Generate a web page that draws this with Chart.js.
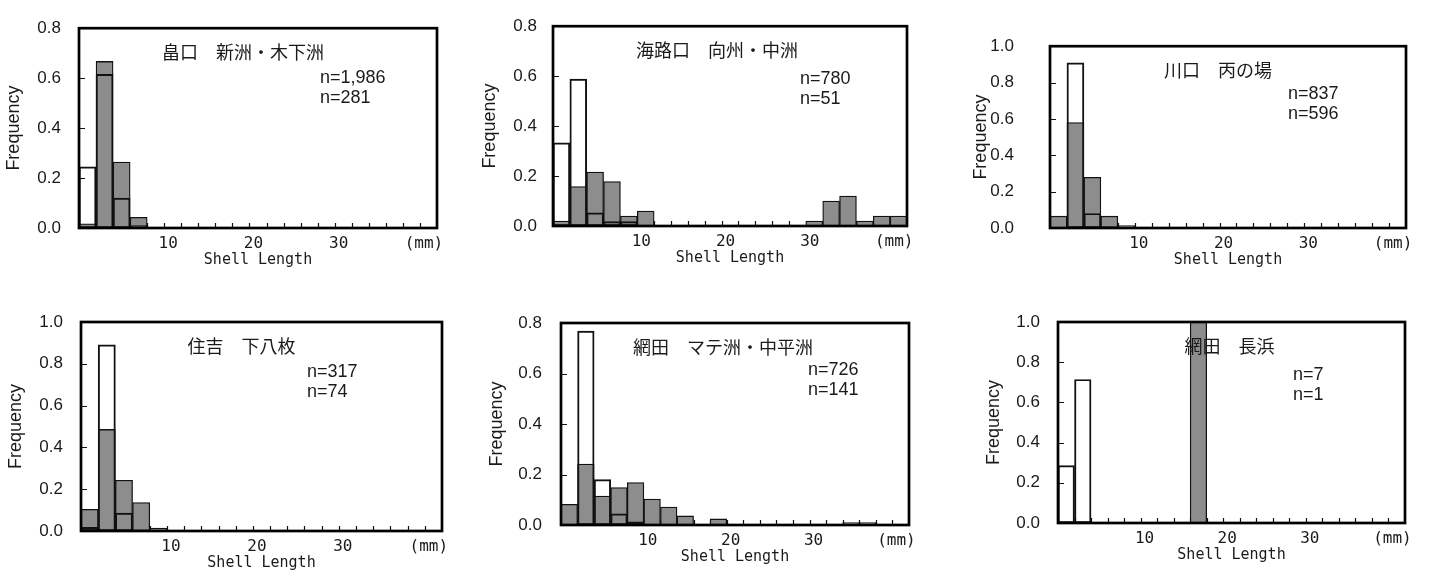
<!DOCTYPE html>
<html>
<head>
<meta charset="utf-8">
<title>Shell Length Frequency</title>
<script src="https://cdn.jsdelivr.net/npm/chart.js@4.4.1/dist/chart.umd.min.js"></script>
<style>
  body { margin: 0; background: #fff; }
  #wrap { position: relative; width: 1429px; height: 573px; }
  #wrap canvas { position: absolute; }
</style>
</head>
<body>
<div id="wrap"></div>
<script>
// bin centres, 2 mm bins from 0 to 42 mm
const binMids = [1, 3, 5, 7, 9, 11, 13, 15, 17, 19, 21, 23, 25, 27, 29, 31, 33, 35, 37, 39, 41];
const xTickLabels = { 10: '10', 20: '20', 30: '30', 40: '(mm)' };

const panelTitles = ['畠口　新洲・木下洲', '海路口　向州・中洲', '川口　丙の場',
                     '住吉　下八枚', '網田　マテ洲・中平洲', '網田　長浜'];
const nWhite = ['n=1,986', 'n=780', 'n=837', 'n=317', 'n=726', 'n=7'];
const nGray  = ['n=281', 'n=51', 'n=596', 'n=74', 'n=141', 'n=1'];
const yMaxes = [0.8, 0.8, 1.0, 1.0, 0.8, 1.0];

// white (open) bars
const white1 = [0.245, 0.615, 0.12, 0.01, 0, 0, 0, 0, 0, 0, 0, 0, 0, 0, 0, 0, 0, 0, 0, 0, 0];
const white2 = [0.333, 0.588, 0.053, 0.018, 0.018, 0.004, 0, 0, 0, 0, 0, 0, 0, 0, 0, 0, 0, 0, 0, 0, 0];
const white3 = [0.004, 0.908, 0.08, 0.008, 0, 0, 0, 0, 0, 0, 0, 0, 0, 0, 0, 0, 0, 0, 0, 0, 0];
const white4 = [0.017, 0.891, 0.086, 0.006, 0, 0, 0, 0, 0, 0, 0, 0, 0, 0, 0, 0, 0, 0, 0, 0, 0];
const white5 = [0.003, 0.768, 0.18, 0.044, 0.013, 0, 0, 0, 0, 0, 0, 0, 0, 0, 0, 0, 0, 0, 0, 0, 0];
const white6 = [0.286, 0.714, 0, 0, 0, 0, 0, 0, 0, 0, 0, 0, 0, 0, 0, 0, 0, 0, 0, 0, 0];

// gray (filled) bars
const gray1 = [0.017, 0.667, 0.264, 0.043, 0, 0, 0, 0, 0, 0, 0, 0, 0, 0, 0, 0, 0, 0, 0, 0, 0];
const gray2 = [0.02, 0.158, 0.216, 0.178, 0.04, 0.06, 0, 0, 0, 0, 0, 0, 0, 0, 0, 0.02, 0.1, 0.12, 0.02, 0.04, 0.04];
const gray3 = [0.065, 0.58, 0.279, 0.065, 0.013, 0, 0, 0, 0, 0, 0, 0, 0, 0, 0, 0, 0, 0, 0, 0, 0];
const gray4 = [0.104, 0.486, 0.243, 0.136, 0.014, 0, 0, 0, 0, 0, 0, 0.005, 0, 0, 0, 0, 0, 0, 0, 0, 0];
const gray5 = [0.082, 0.241, 0.115, 0.148, 0.168, 0.103, 0.071, 0.036, 0, 0.024, 0, 0, 0, 0, 0, 0, 0, 0.01, 0.01, 0, 0];
const gray6 = [0, 0, 0, 0, 0, 0, 0, 0, 1.0, 0, 0, 0, 0, 0, 0, 0, 0, 0, 0, 0, 0];

const whiteSeries = [white1, white2, white3, white4, white5, white6];
const graySeries = [gray1, gray2, gray3, gray4, gray5, gray6];

// where each panel sits on the page (cell) and where its plot box goes inside it
const cells = [
  { left: 0,   top: 0,   w: 470, h: 290, aL: 79,  aT: 17, aR: 437, aB: 228, yTitleX: 14, yGap: 18, titleDx: -15, nDx: 117, nDy: 50 },
  { left: 470, top: 0,   w: 480, h: 290, aL: 83,  aT: 17, aR: 437, aB: 226, yTitleX: 20, yGap: 16, titleDx: -13, nDx: 107, nDy: 53 },
  { left: 950, top: 0,   w: 479, h: 290, aL: 100, aT: 22, aR: 456, aB: 228, yTitleX: 31, yGap: 36, titleDx: -10, nDx: 118, nDy: 48 },
  { left: 0,   top: 290, w: 470, h: 283, aL: 81,  aT: 32, aR: 442, aB: 241, yTitleX: 16, yGap: 18, titleDx: -20, nDx: 135, nDy: 50 },
  { left: 470, top: 290, w: 480, h: 283, aL: 91,  aT: 33, aR: 439, aB: 235, yTitleX: 27, yGap: 19, titleDx: -12, nDx: 101, nDy: 47 },
  { left: 950, top: 290, w: 479, h: 283, aL: 108, aT: 32, aR: 455, aB: 233, yTitleX: 44, yGap: 18, titleDx: -2,  nDx: 112, nDy: 53 }
];

const X_AXIS_H = 42;

const framePlugin = {
  id: 'frame',
  beforeDatasetsDraw(chart) {
    const { ctx, chartArea: a, scales: { x, y } } = chart;
    ctx.save();
    ctx.strokeStyle = '#111';
    ctx.lineWidth = 1.2;
    ctx.beginPath();
    x.ticks.forEach(t => {
      if (t.value > x.min && t.value < x.max) {
        const px = Math.round(x.getPixelForValue(t.value)) + 0.5;
        ctx.moveTo(px, a.bottom);
        ctx.lineTo(px, a.bottom - 5);
      }
    });
    y.ticks.forEach(t => {
      if (t.value > y.min + 1e-9 && t.value < y.max - 1e-9) {
        const py = Math.round(y.getPixelForValue(t.value)) + 0.5;
        ctx.moveTo(a.left, py);
        ctx.lineTo(a.left + 6, py);
      }
    });
    ctx.stroke();
    ctx.restore();
  },
  afterDatasetsDraw(chart, args, opts) {
    const { ctx, chartArea: a } = chart;
    ctx.save();
    ctx.strokeStyle = '#000';
    ctx.lineWidth = 2.7;
    ctx.strokeRect(a.left, a.top, a.right - a.left, a.bottom - a.top);

    ctx.fillStyle = '#1a1a1a';
    ctx.textBaseline = 'middle';
    ctx.textAlign = 'center';
    ctx.font = '18px "Noto Sans CJK JP"';
    ctx.fillText(opts.title, (a.left + a.right) / 2 + opts.titleDx, a.top + 24);

    ctx.textAlign = 'left';
    ctx.font = '18px "Liberation Sans", Arial, sans-serif';
    ctx.fillText(opts.nWhite, a.right - opts.nDx, a.top + opts.nDy);
    ctx.fillText(opts.nGray, a.right - opts.nDx, a.top + opts.nDy + 20);
    ctx.restore();
  }
};

const wrap = document.getElementById('wrap');

cells.forEach((c, i) => {
  const canvas = document.createElement('canvas');
  canvas.width = c.w;
  canvas.height = c.h;
  canvas.style.left = c.left + 'px';
  canvas.style.top = c.top + 'px';
  canvas.style.width = c.w + 'px';
  canvas.style.height = c.h + 'px';
  wrap.appendChild(canvas);

  new Chart(canvas, {
    type: 'bar',
    data: {
      datasets: [
        {
          label: nWhite[i],
          data: binMids.map((m, k) => ({ x: m, y: whiteSeries[i][k] })),
          backgroundColor: 'rgba(255,255,255,0)',
          borderColor: '#111',
          borderWidth: 1.3,
          borderSkipped: false,
          grouped: false,
          barPercentage: 1,
          categoryPercentage: 1
        },
        {
          label: nGray[i],
          data: binMids.map((m, k) => ({ x: m, y: graySeries[i][k] })),
          backgroundColor: '#8d8d8d',
          borderColor: '#111',
          borderWidth: 1.3,
          borderSkipped: false,
          grouped: false,
          barPercentage: 1,
          categoryPercentage: 1
        }
      ]
    },
    options: {
      responsive: false,
      animation: false,
      devicePixelRatio: 1,
      layout: {
        padding: { left: 0, top: c.aT, right: c.w - c.aR, bottom: c.h - c.aB - X_AXIS_H }
      },
      plugins: {
        legend: { display: false },
        tooltip: { enabled: false },
        frame: {
          title: panelTitles[i], nWhite: nWhite[i], nGray: nGray[i],
          titleDx: c.titleDx, nDx: c.nDx, nDy: c.nDy
        }
      },
      scales: {
        x: {
          type: 'linear',
          min: 0,
          max: 42,
          offset: false,
          grid: { display: false, drawTicks: false },
          border: { display: false },
          ticks: {
            stepSize: 2,
            autoSkip: false,
            maxRotation: 0,
            padding: 6,
            labelOffset: 4,
            color: '#1a1a1a',
            font: { family: '"DejaVu Sans Mono", monospace', size: 16 },
            callback: v => xTickLabels[v] || ''
          },
          title: {
            display: true,
            text: 'Shell Length',
            color: '#1a1a1a',
            font: { family: '"DejaVu Sans Mono", monospace', size: 15, lineHeight: 1 },
            padding: { top: 0, bottom: X_AXIS_H - 32 - 7.5 }
          },
          afterFit: s => { s.height = X_AXIS_H; }
        },
        y: {
          min: 0,
          max: yMaxes[i],
          grid: { display: false, drawTicks: false },
          border: { display: false },
          ticks: {
            stepSize: 0.2,
            padding: c.yGap,
            color: '#1a1a1a',
            font: { family: '"Liberation Sans", Arial, sans-serif', size: 17 },
            callback: v => Number(v).toFixed(1)
          },
          title: {
            display: true,
            text: 'Frequency',
            color: '#1a1a1a',
            font: { family: '"Liberation Sans", Arial, sans-serif', size: 18, lineHeight: 1 },
            padding: { top: c.yTitleX - 9, bottom: 0 }
          },
          afterFit: s => { s.width = c.aL; }
        }
      }
    },
    plugins: [framePlugin]
  });
});
</script>
</body>
</html>
